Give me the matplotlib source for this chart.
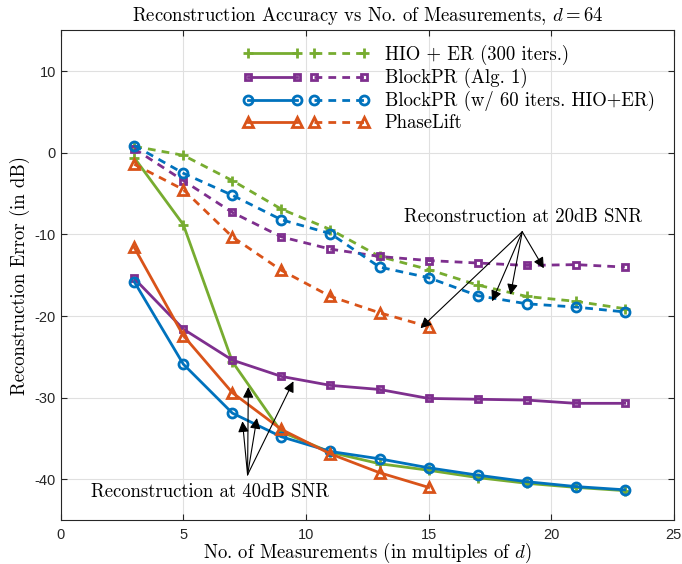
import matplotlib
matplotlib.use("Agg")
import matplotlib.pyplot as plt
from matplotlib.legend_handler import HandlerTuple

# Measurements (in multiples of d)
meas = [3, 5, 7, 9, 11, 13, 15, 17, 19, 21, 23]
meas_pl = [3, 5, 7, 9, 11, 13, 15]

# Reconstruction error (dB), 40 dB SNR (solid) and 20 dB SNR (dashed)
hio_40 = [-0.6, -8.8, -25.6, -34.2, -36.7, -38.1, -38.9, -39.8, -40.5, -41.0, -41.4]
hio_20 = [0.8, -0.3, -3.4, -6.9, -9.4, -12.7, -14.3, -16.2, -17.6, -18.2, -19.1]
bpr_40 = [-15.4, -21.6, -25.4, -27.4, -28.5, -29.0, -30.1, -30.2, -30.3, -30.7, -30.7]
bpr_20 = [0.5, -3.4, -7.3, -10.3, -11.8, -12.7, -13.2, -13.5, -13.8, -13.7, -14.0]
bhio_40 = [-15.8, -25.9, -31.9, -34.8, -36.6, -37.5, -38.6, -39.5, -40.3, -40.9, -41.3]
bhio_20 = [0.9, -2.5, -5.2, -8.2, -9.9, -14.0, -15.3, -17.5, -18.5, -18.9, -19.5]
pl_40 = [-11.6, -22.4, -29.4, -33.9, -36.9, -39.2, -41.0]
pl_20 = [-1.4, -4.5, -10.3, -14.4, -17.6, -19.6, -21.3]

labels = ["HIO + ER (300 iters.)", "BlockPR (Alg. 1)",
          "BlockPR (w/ 60 iters. HIO+ER)", "PhaseLift"]

# arrow tails / heads for the annotations
tail_40 = (7.62, -39.46)
heads_40 = [(7.41, -32.9), (7.65, -28.7), (8.0, -32.5), (9.49, -28.0)]
tail_20 = (18.82, -9.67)
heads_20 = [(14.67, -21.5), (17.59, -18.2), (18.34, -17.4), (19.70, -14.15)]

plt.rcParams["mathtext.fontset"] = "cm"
plt.rcParams["axes.unicode_minus"] = False
serif = "cmr10"
fs = 13.5

green = "#77AC30"
purple = "#7E2F8E"
blue = "#0072BD"
orange = "#D95319"
dash = (0, (2.8, 2.2))

fig = plt.figure(figsize=(6.82, 5.64), dpi=100)
ax = fig.add_axes([0.089, 0.078, 0.899, 0.868])

styles = [
    (meas, hio_40, hio_20, green, "+", 7),
    (meas, bpr_40, bpr_20, purple, "s", 4.5),
    (meas, bhio_40, bhio_20, blue, "o", 6.5),
    (meas_pl, pl_40, pl_20, orange, "^", 7.5),
]

handles = []
for x, y40, y20, c, m, ms in styles:
    l1, = ax.plot(x, y40, color=c, lw=2, marker=m, ms=ms, mew=2, mfc="none")
    l2, = ax.plot(x, y20, color=c, lw=2, marker=m, ms=ms, mew=2, mfc="none",
                  linestyle=dash)
    handles.append((l1, l2))

ax.set_xlim(0, 25)
ax.set_ylim(-45, 15)
ax.set_xticks([0, 5, 10, 15, 20, 25])
ax.set_yticks([-40, -30, -20, -10, 0, 10])
ax.grid(True, color="#e0e0e0", lw=0.8)
ax.set_axisbelow(True)
ax.tick_params(direction="in", top=True, right=True, length=4,
               labelsize=10.5, colors="#262626")
ax.tick_params(axis="x", pad=6)
for lab in ax.get_xticklabels() + ax.get_yticklabels():
    lab.set_fontfamily("Liberation Sans")
for sp in ax.spines.values():
    sp.set_color("#262626")
    sp.set_linewidth(0.8)

ax.set_title(r"Reconstruction Accuracy vs No. of Measurements, $d = 64$",
             fontfamily=serif, fontsize=fs, pad=7)
ax.set_xlabel(r"No. of Measurements (in multiples of $d$)",
              fontfamily=serif, fontsize=fs, labelpad=-1)
ax.set_ylabel("Reconstruction Error (in dB)", fontfamily=serif,
              fontsize=fs, labelpad=3)

leg = ax.legend(handles, labels, handler_map={tuple: HandlerTuple(ndivide=None, pad=0.31)},
                loc="upper left", bbox_to_anchor=(0.268, 1.005), frameon=False,
                numpoints=2, handlelength=6.8, handletextpad=0.82,
                labelspacing=0.16, prop={"family": serif, "size": fs})

arrow = dict(arrowstyle="-|>", color="black", lw=0.8, mutation_scale=16,
             shrinkA=0, shrinkB=0)
for h in heads_40:
    ax.annotate("", xy=h, xytext=tail_40, arrowprops=arrow)
for h in heads_20:
    ax.annotate("", xy=h, xytext=tail_20, arrowprops=arrow)
ax.text(6.09, -41.6, "Reconstruction at 40dB SNR", fontfamily=serif,
        fontsize=fs, ha="center", va="center")
ax.text(18.86, -7.9, "Reconstruction at 20dB SNR", fontfamily=serif,
        fontsize=fs, ha="center", va="center")

fig.savefig("out.png", dpi=100)
